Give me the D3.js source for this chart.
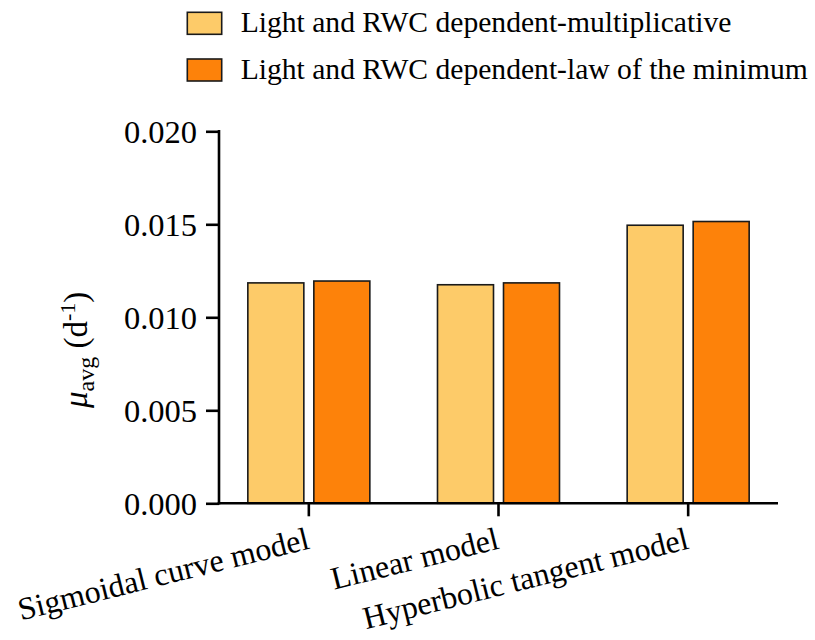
<!DOCTYPE html>
<html>
<head>
<meta charset="utf-8">
<script src="https://cdn.jsdelivr.net/npm/d3@7"></script>
<style>
  html, body { margin: 0; padding: 0; background: #fff; }
  svg { display: block; font-family: "Liberation Serif", "Times New Roman", serif; }
</style>
</head>
<body>
<svg id="chart" width="815" height="640"></svg>
<script>
// Model categories and the two series of average growth rates (d^-1)
const categories = ["Sigmoidal curve model", "Linear model", "Hyperbolic tangent model"];
const seriesNames = ["Light and RWC dependent-multiplicative", "Light and RWC dependent-law of the minimum"];
const multiplicative = [0.01185, 0.01175, 0.01495];
const lawOfMinimum = [0.01195, 0.01185, 0.01515];
const yTicks = [0.000, 0.005, 0.010, 0.015, 0.020];
const colors = ["#FDCB69", "#FD820A"];

const seriesValues = [multiplicative, lawOfMinimum];
const rows = categories.map((c, i) => ({
  category: c,
  values: seriesNames.map((s, k) => ({ series: s, value: seriesValues[k][i], color: colors[k] }))
}));

const svg = d3.select("#chart");
const axisLeftX = 219, axisRightX = 778;
const baseY = 503.3, topY = 131.3;

const y = d3.scaleLinear().domain([0, 0.02]).range([baseY, topY]);
const x0 = d3.scaleBand().domain(categories).range([214, 783]);
const x1 = d3.scaleBand().domain(seriesNames).range([-61, 61]).paddingInner(10 / 66);

// Bars
const groups = svg.append("g").selectAll("g").data(rows).join("g")
  .attr("transform", d => `translate(${x0(d.category) + x0.bandwidth() / 2},0)`);
groups.selectAll("rect").data(d => d.values).join("rect")
  .attr("x", d => x1(d.series))
  .attr("width", x1.bandwidth())
  .attr("y", d => y(d.value))
  .attr("height", d => baseY - y(d.value))
  .attr("fill", d => d.color)
  .attr("stroke", "#1a1a1a")
  .attr("stroke-width", 1.6);

// Y axis
const yAxis = svg.append("g")
  .attr("transform", `translate(${axisLeftX},0)`)
  .call(d3.axisLeft(y).tickValues(yTicks).tickFormat(d3.format(".3f")).tickSize(13).tickPadding(9));
yAxis.select(".domain").remove();
yAxis.append("line").attr("x1", 0).attr("x2", 0).attr("y1", topY - 1.3).attr("y2", baseY + 1.3)
  .attr("stroke", "#000").attr("stroke-width", 2.6);
yAxis.selectAll(".tick line").attr("stroke", "#000").attr("stroke-width", 2.6);
yAxis.selectAll(".tick text").attr("fill", "#000").attr("font-size", 32.5)
  .attr("font-family", "Liberation Serif, serif").attr("dy", "0.34em");

// X axis: baseline and category ticks
const xAxis = svg.append("g").attr("transform", `translate(0,${baseY})`);
xAxis.append("line").attr("x1", axisLeftX - 1.3).attr("x2", axisRightX).attr("y1", 0).attr("y2", 0)
  .attr("stroke", "#000").attr("stroke-width", 2.6);
xAxis.selectAll("line.tick").data(categories).join("line").attr("class", "tick")
  .attr("x1", d => x0(d) + x0.bandwidth() / 2).attr("x2", d => x0(d) + x0.bandwidth() / 2)
  .attr("y1", 0).attr("y2", 13).attr("stroke", "#000").attr("stroke-width", 2.6);
xAxis.selectAll("text").data(categories).join("text")
  .attr("transform", d => `translate(${x0(d) + x0.bandwidth() / 2 + 2},45) rotate(-14)`)
  .attr("text-anchor", "end")
  .attr("font-size", 32)
  .attr("fill", "#000")
  .text(d => d);

// Y axis title: μ_avg (d^-1)
const yTitle = svg.append("text")
  .attr("transform", "translate(87,408) rotate(-90)")
  .attr("font-size", 33)
  .attr("fill", "#000");
yTitle.append("tspan").attr("font-style", "italic").text("μ");
yTitle.append("tspan").attr("font-size", 24).attr("dy", 7).text("avg");
yTitle.append("tspan").attr("dy", -7).text(" (d");
yTitle.append("tspan").attr("font-size", 22).attr("dy", -12).text("-1");
yTitle.append("tspan").attr("dy", 12).text(")");

// Legend
const legend = svg.append("g").selectAll("g").data(seriesNames).join("g")
  .attr("transform", (d, i) => `translate(187.3,${12.3 + i * 46.7})`);
legend.append("rect")
  .attr("width", 34.4).attr("height", 22)
  .attr("fill", (d, i) => colors[i])
  .attr("stroke", "#1a1a1a").attr("stroke-width", 1.6);
legend.append("text")
  .attr("x", 53.4).attr("y", 20)
  .attr("font-size", 29.6)
  .attr("fill", "#000")
  .text(d => d);
</script>
</body>
</html>
